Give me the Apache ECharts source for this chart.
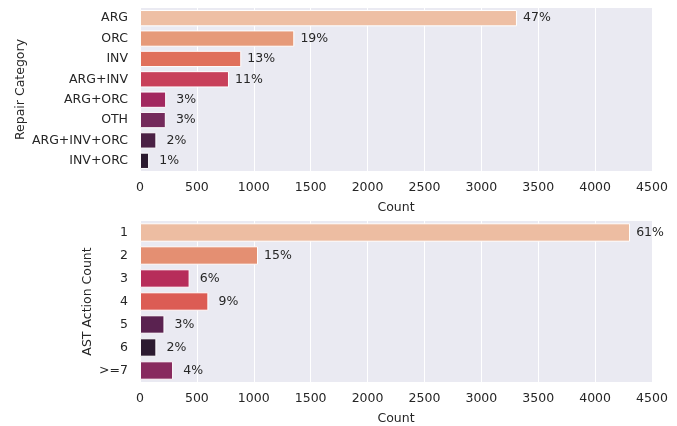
<!DOCTYPE html>
<html>
<head>
<meta charset="utf-8">
<script src="https://cdn.jsdelivr.net/npm/echarts@6/dist/echarts.min.js"></script>
<style>
html, body { margin: 0; padding: 0; background: #fff; }
#main { width: 677px; height: 426px; }
</style>
</head>
<body>
<div id="main"></div>
<script>
// top panel: repair categories
const repairCats = ['ARG', 'ORC', 'INV', 'ARG+INV', 'ARG+ORC', 'OTH', 'ARG+INV+ORC', 'INV+ORC'];
const repairCounts = [3313, 1356, 890, 782, 230, 227, 144, 80];
const repairPct = ['47%', '19%', '13%', '11%', '3%', '3%', '2%', '1%'];
const repairColors = ['#eebfa4', '#e69a79', '#e0705b', '#c8405a', '#a2285f', '#742a5b', '#4b2145', '#2b1a2f'];

// bottom panel: AST action counts
const actionCats = ['1', '2', '3', '4', '5', '6', '>=7'];
const actionCounts = [4307, 1037, 436, 601, 215, 144, 291];
const actionPct = ['61%', '15%', '6%', '9%', '3%', '2%', '4%'];
const actionColors = ['#edbda2', '#e48f72', '#b72d5a', '#dc5c54', '#5a2250', '#2c1b31', '#882a5e'];

const xTicks = [0, 500, 1000, 1500, 2000, 2500, 3000, 3500, 4000, 4500];

const txt = '#262626';
const font = 'DejaVu Sans';
const fs = 12.5;

function xAxis(idx) {
    return {
        type: 'value', gridIndex: idx,
        min: xTicks[0], max: xTicks[xTicks.length - 1], interval: 500,
        name: 'Count', nameLocation: 'middle', nameGap: 30,
        nameTextStyle: { color: txt, fontSize: fs, fontFamily: font },
        axisLine: { show: false }, axisTick: { show: false },
        axisLabel: { color: txt, fontSize: fs, fontFamily: font, margin: 10, formatter: v => String(v) },
        splitLine: { show: true, lineStyle: { color: '#ffffff', width: 1 } }
    }
}

function yAxis(idx, cats, title, gap) {
    return {
        type: 'category', gridIndex: idx, data: cats, inverse: true,
        name: title, nameLocation: 'middle', nameGap: gap, nameMoveOverlap: false,
        nameTextStyle: { color: txt, fontSize: fs, fontFamily: font },
        axisLine: { show: false }, axisTick: { show: false },
        axisLabel: { color: txt, fontSize: fs, fontFamily: font, margin: 12 },
        splitLine: { show: false }
    }
}

function barSeries(idx, counts, colors, pct) {
    return {
        type: 'bar', xAxisIndex: idx, yAxisIndex: idx,
        barCategoryGap: '20%',
        data: counts.map((v, i) => ({ value: v, itemStyle: { color: colors[i] } })),
        itemStyle: { borderColor: '#ffffff', borderWidth: 1 },
        label: {
            show: true, position: 'right', distance: 20, align: 'center',
            color: txt, fontSize: fs, fontFamily: font,
            formatter: p => pct[p.dataIndex]
        },
        silent: true
    }
}

let myChart = echarts.init(document.getElementById('main'));
let option = {
    backgroundColor: '#ffffff',
    animation: false,
    textStyle: { fontFamily: font },
    grid: [
        { left: 140, top: 8, width: 512, height: 163, backgroundColor: '#eaeaf2', show: true, borderWidth: 0 },
        { left: 140, top: 221, width: 512, height: 163, backgroundColor: '#eaeaf2', show: true, borderWidth: 0 }
    ],
    xAxis: [xAxis(0), xAxis(1)],
    yAxis: [
        yAxis(0, repairCats, 'Repair Category', 113),
        yAxis(1, actionCats, 'AST Action Count', 46)
    ],
    series: [
        barSeries(0, repairCounts, repairColors, repairPct),
        barSeries(1, actionCounts, actionColors, actionPct)
    ]
};
myChart.setOption(option);
</script>
</body>
</html>
